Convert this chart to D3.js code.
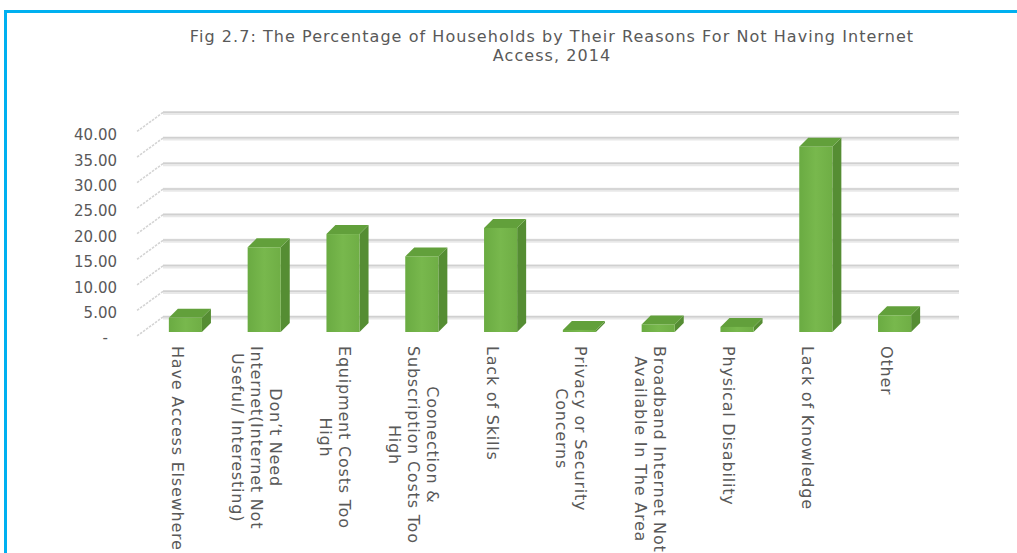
<!DOCTYPE html>
<html>
<head>
<meta charset="utf-8">
<script src="https://cdn.jsdelivr.net/npm/d3@7"></script>
<style>
  html, body { margin: 0; padding: 0; background: #fff; overflow: hidden; }
  svg { display: block; }
  text { font-family: "DejaVu Sans", sans-serif; fill: #595959; }
</style>
</head>
<body>
<svg id="chart" width="1017" height="553"></svg>
<script>
// Reasons for not having internet access (multi-line labels split on "\n")
const categories = [
  "Have Access Elsewhere",
  "Don\u2019t Need\nInternet(Internet Not\nUseful/ Interesting)",
  "Equipment Costs Too\nHigh",
  "Coonection &\nSubscription Costs Too\nHigh",
  "Lack of Skills",
  "Privacy or Security\nConcerns",
  "Broadband Internet Not\nAvailable In The Area",
  "Physical Disability",
  "Lack of Knowledge",
  "Other"
];

// Percentage of households, 2014
const values = [2.8, 16.7, 19.3, 14.9, 20.5, 0.4, 1.5, 1.0, 36.5, 3.3];

// Value-axis ticks
const yTicks = [0, 5, 10, 15, 20, 25, 30, 35, 40];

const titleLines = [
  "Fig 2.7: The Percentage of Households by Their Reasons For Not Having Internet",
  "Access, 2014"
];

const svg = d3.select("#chart");

// Frame accent lines
svg.append("rect").attr("x", 4).attr("y", 10).attr("width", 1013).attr("height", 3).attr("fill", "#00b0f0");
svg.append("rect").attr("x", 4).attr("y", 10).attr("width", 3).attr("height", 543).attr("fill", "#00b0f0");

// Title
svg.append("text")
  .attr("x", 552).attr("y", 42)
  .attr("text-anchor", "middle")
  .style("font-size", "16px")
  .style("letter-spacing", "1.05px")
  .selectAll("tspan").data(titleLines).join("tspan")
  .attr("x", 552).attr("dy", (d, i) => i === 0 ? 0 : 18.5)
  .text(d => d);

// 3D layout: depth offset of the bar tops / walls
const depthX = 9, depthY = -9;

// Category scale for the bars
const x = d3.scaleBand()
  .domain(categories)
  .range([146, 934])
  .paddingInner(0.58)
  .paddingOuter(0.29);

// Front-face value scale (bars), back-wall scale (gridlines), label scale (axis)
const yFront = d3.scaleLinear().domain([0, 40]).range([332, 129]);
const yBack  = d3.scaleLinear().domain([0, 40]).range([317, 112.5]);
const yAxisScale = d3.scaleLinear().domain([0, 40]).range([338, 135]);

const wallLeft = 163, wallRight = 959, sideDX = -26, sideDY = 19;

// Back wall gridlines
const grid = svg.append("g");
grid.selectAll("line.soft").data(yTicks).join("line")
  .attr("class", "soft")
  .attr("x1", wallLeft).attr("x2", wallRight)
  .attr("y1", d => yBack(d) + 0.5).attr("y2", d => yBack(d) + 0.5)
  .attr("stroke", "#e8e8e8").attr("stroke-width", 4);
grid.selectAll("line.main").data(yTicks).join("line")
  .attr("class", "main")
  .attr("x1", wallLeft).attr("x2", wallRight)
  .attr("y1", d => yBack(d) - 0.3).attr("y2", d => yBack(d) - 0.3)
  .attr("stroke", "#d0d0d0").attr("stroke-width", 1.5);

// Side wall gridlines (receding diagonals)
grid.selectAll("line.side").data(yTicks).join("line")
  .attr("class", "side")
  .attr("x1", wallLeft).attr("y1", d => yBack(d))
  .attr("x2", wallLeft + sideDX).attr("y2", d => yBack(d) + sideDY)
  .attr("stroke", "#d4d4d4").attr("stroke-width", 1.6)
  .attr("stroke-dasharray", "2.5,1.2");

// Y axis labels
const yAxis = d3.axisLeft(yAxisScale)
  .tickValues(yTicks)
  .tickSize(0)
  .tickPadding(0)
  .tickFormat(d => d === 0 ? "-" : d3.format(".2f")(d));
const axisG = svg.append("g").attr("transform", "translate(117,0)").call(yAxis);
axisG.select(".domain").remove();
axisG.selectAll("text")
  .style("font-family", "DejaVu Sans, sans-serif")
  .style("font-size", "15px")
  .attr("fill", "#595959")
  .filter(d => d === 0).attr("dx", -9);

// Bars with front, side and top faces
const defs = svg.append("defs");
const grad = defs.append("linearGradient").attr("id", "frontGrad")
  .attr("x1", 0).attr("x2", 1).attr("y1", 0).attr("y2", 0);
grad.append("stop").attr("offset", "0%").attr("stop-color", "#6aab42");
grad.append("stop").attr("offset", "50%").attr("stop-color", "#78b84d");
grad.append("stop").attr("offset", "100%").attr("stop-color", "#6fae45");

const bars = svg.append("g").selectAll("g.bar")
  .data(categories.map((c, i) => ({ c, v: values[i] })))
  .join("g").attr("class", "bar");

const w = x.bandwidth();
bars.append("path") // side face
  .attr("d", d => {
    const x0 = x(d.c) + w, yt = yFront(d.v), yb = yFront(0);
    return `M${x0},${yt}L${x0 + depthX},${yt + depthY}L${x0 + depthX},${yb + depthY}L${x0},${yb}Z`;
  })
  .attr("fill", "#558d33");
bars.append("path") // top face
  .attr("d", d => {
    const x0 = x(d.c), yt = yFront(d.v);
    return `M${x0},${yt}L${x0 + w},${yt}L${x0 + w + depthX},${yt + depthY}L${x0 + depthX},${yt + depthY}Z`;
  })
  .attr("fill", "#62a03b");
bars.append("rect") // front face
  .attr("x", d => x(d.c))
  .attr("y", d => yFront(d.v))
  .attr("width", w)
  .attr("height", d => yFront(0) - yFront(d.v))
  .attr("fill", "url(#frontGrad)");

// Category labels, rotated and read top to bottom
const linePitch = 19, labelTop = 346, labelShift = -8;
const labels = svg.append("g").selectAll("text.cat")
  .data(categories)
  .join("text")
  .attr("class", "cat")
  .style("font-size", "16px")
  .style("letter-spacing", "0.8px")
  .attr("transform", d => `translate(${x(d) + w / 2 + labelShift},${labelTop}) rotate(90)`);

labels.each(function (d) {
  const lines = d.split("\n");
  const t = d3.select(this);
  const spans = t.selectAll("tspan").data(lines).join("tspan")
    .attr("text-anchor", "middle")
    .attr("y", (s, i) => (i - (lines.length - 1) / 2) * linePitch)
    .attr("dy", "0.35em")
    .text(s => s);
  let maxLen = 0;
  spans.each(function () { maxLen = Math.max(maxLen, this.getComputedTextLength()); });
  spans.attr("x", maxLen / 2);
});
</script>
</body>
</html>
